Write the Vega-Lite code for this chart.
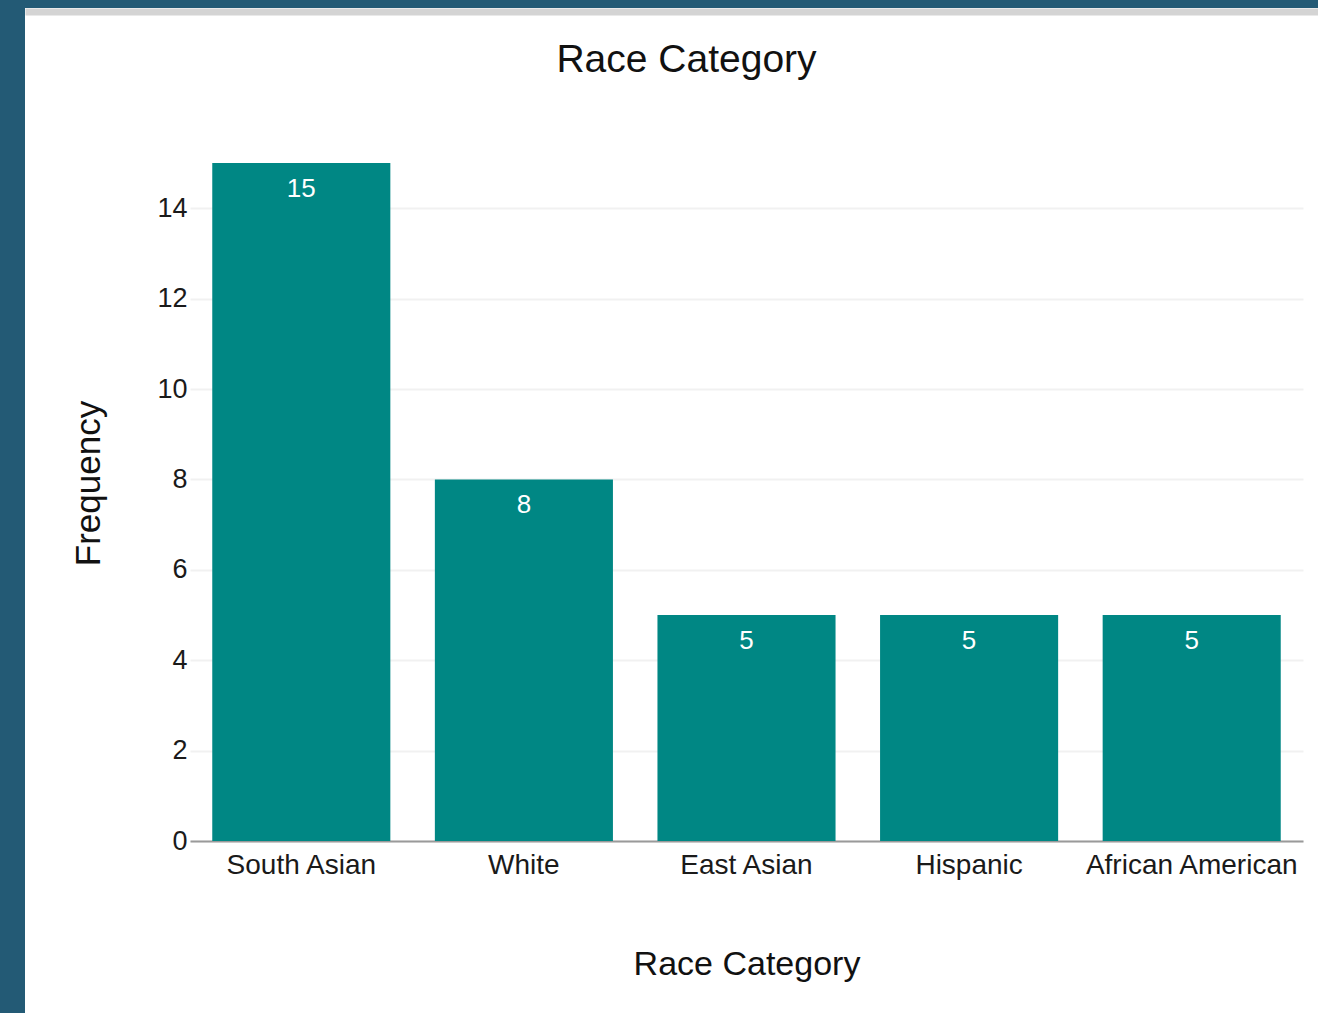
{
  "$schema": "https://vega.github.io/schema/vega-lite/v6.json",
  "width": 1293,
  "height": 1005,
  "autosize": "none",
  "padding": {"left": 25, "top": 8, "right": 0, "bottom": 0},
  "background": "#235a75",
  "title": {
    "text": "Race Category",
    "anchor": "middle",
    "frame": "group",
    "baseline": "alphabetic",
    "offset": -103,
    "dx": 15,
    "font": "Liberation Sans",
    "fontSize": 39,
    "fontWeight": "normal",
    "color": "#111111"
  },
  "data": {
    "values": [
      {"race": "South Asian", "count": 15},
      {"race": "White", "count": 8},
      {"race": "East Asian", "count": 5},
      {"race": "Hispanic", "count": 5},
      {"race": "African American", "count": 5}
    ]
  },
  "layer": [
    {
      "encoding": {
        "x": {
          "field": "race",
          "type": "nominal",
          "sort": null,
          "scale": {"type": "band", "range": [165, 1278], "paddingInner": 0.2, "paddingOuter": 0.1},
          "axis": {
            "orient": "bottom",
            "offset": -172,
            "domain": true,
            "domainColor": "#9a9a9a",
            "domainWidth": 2,
            "ticks": false,
            "grid": false,
            "labelAngle": 0,
            "labelFont": "Liberation Sans",
            "labelFontSize": 28,
            "labelColor": "#1a1a1a",
            "labelPadding": 10,
            "labelLimit": 400,
            "title": "Race Category",
            "titleFont": "Liberation Sans",
            "titleFontSize": 34,
            "titleFontWeight": "normal",
            "titleColor": "#111111",
            "titlePadding": 68
          }
        },
        "y": {
          "field": "count",
          "type": "quantitative",
          "scale": {"domain": [0, 15], "range": [833, 155], "nice": false, "zero": true},
          "axis": {
            "orient": "left",
            "offset": -165,
            "values": [0, 2, 4, 6, 8, 10, 12, 14],
            "domain": false,
            "ticks": false,
            "grid": true,
            "gridColor": "#f1f1f1",
            "gridWidth": 2,
            "labelFont": "Liberation Sans",
            "labelFontSize": 27,
            "labelColor": "#1a1a1a",
            "labelPadding": 3,
            "title": "Frequency",
            "titleFont": "Liberation Sans",
            "titleFontSize": 35,
            "titleFontWeight": "normal",
            "titleColor": "#111111",
            "titlePadding": 50,
            "titleY": 475
          }
        }
      },
      "layer": [
        {"mark": {"type": "bar", "color": "#008784"}},
        {
          "mark": {
            "type": "text",
            "baseline": "top",
            "dy": 13,
            "color": "#ffffff",
            "font": "Liberation Sans",
            "fontSize": 26,
            "fontWeight": 500
          },
          "encoding": {"text": {"field": "count", "type": "quantitative"}}
        }
      ]
    },
    {
      "mark": {"type": "point", "opacity": 0},
      "encoding": {
        "x": {
          "field": "race",
          "type": "nominal",
          "sort": null,
          "axis": {
            "orient": "top",
            "offset": -3.5,
            "domain": true,
            "domainColor": "#d4d4d4",
            "domainWidth": 7,
            "ticks": false,
            "labels": false,
            "grid": false,
            "title": null
          }
        }
      }
    }
  ],
  "resolve": {
    "scale": {"x": "independent"},
    "axis": {"x": "independent", "y": "independent"}
  },
  "config": {
    "view": {"fill": "#ffffff", "stroke": null}
  }
}
